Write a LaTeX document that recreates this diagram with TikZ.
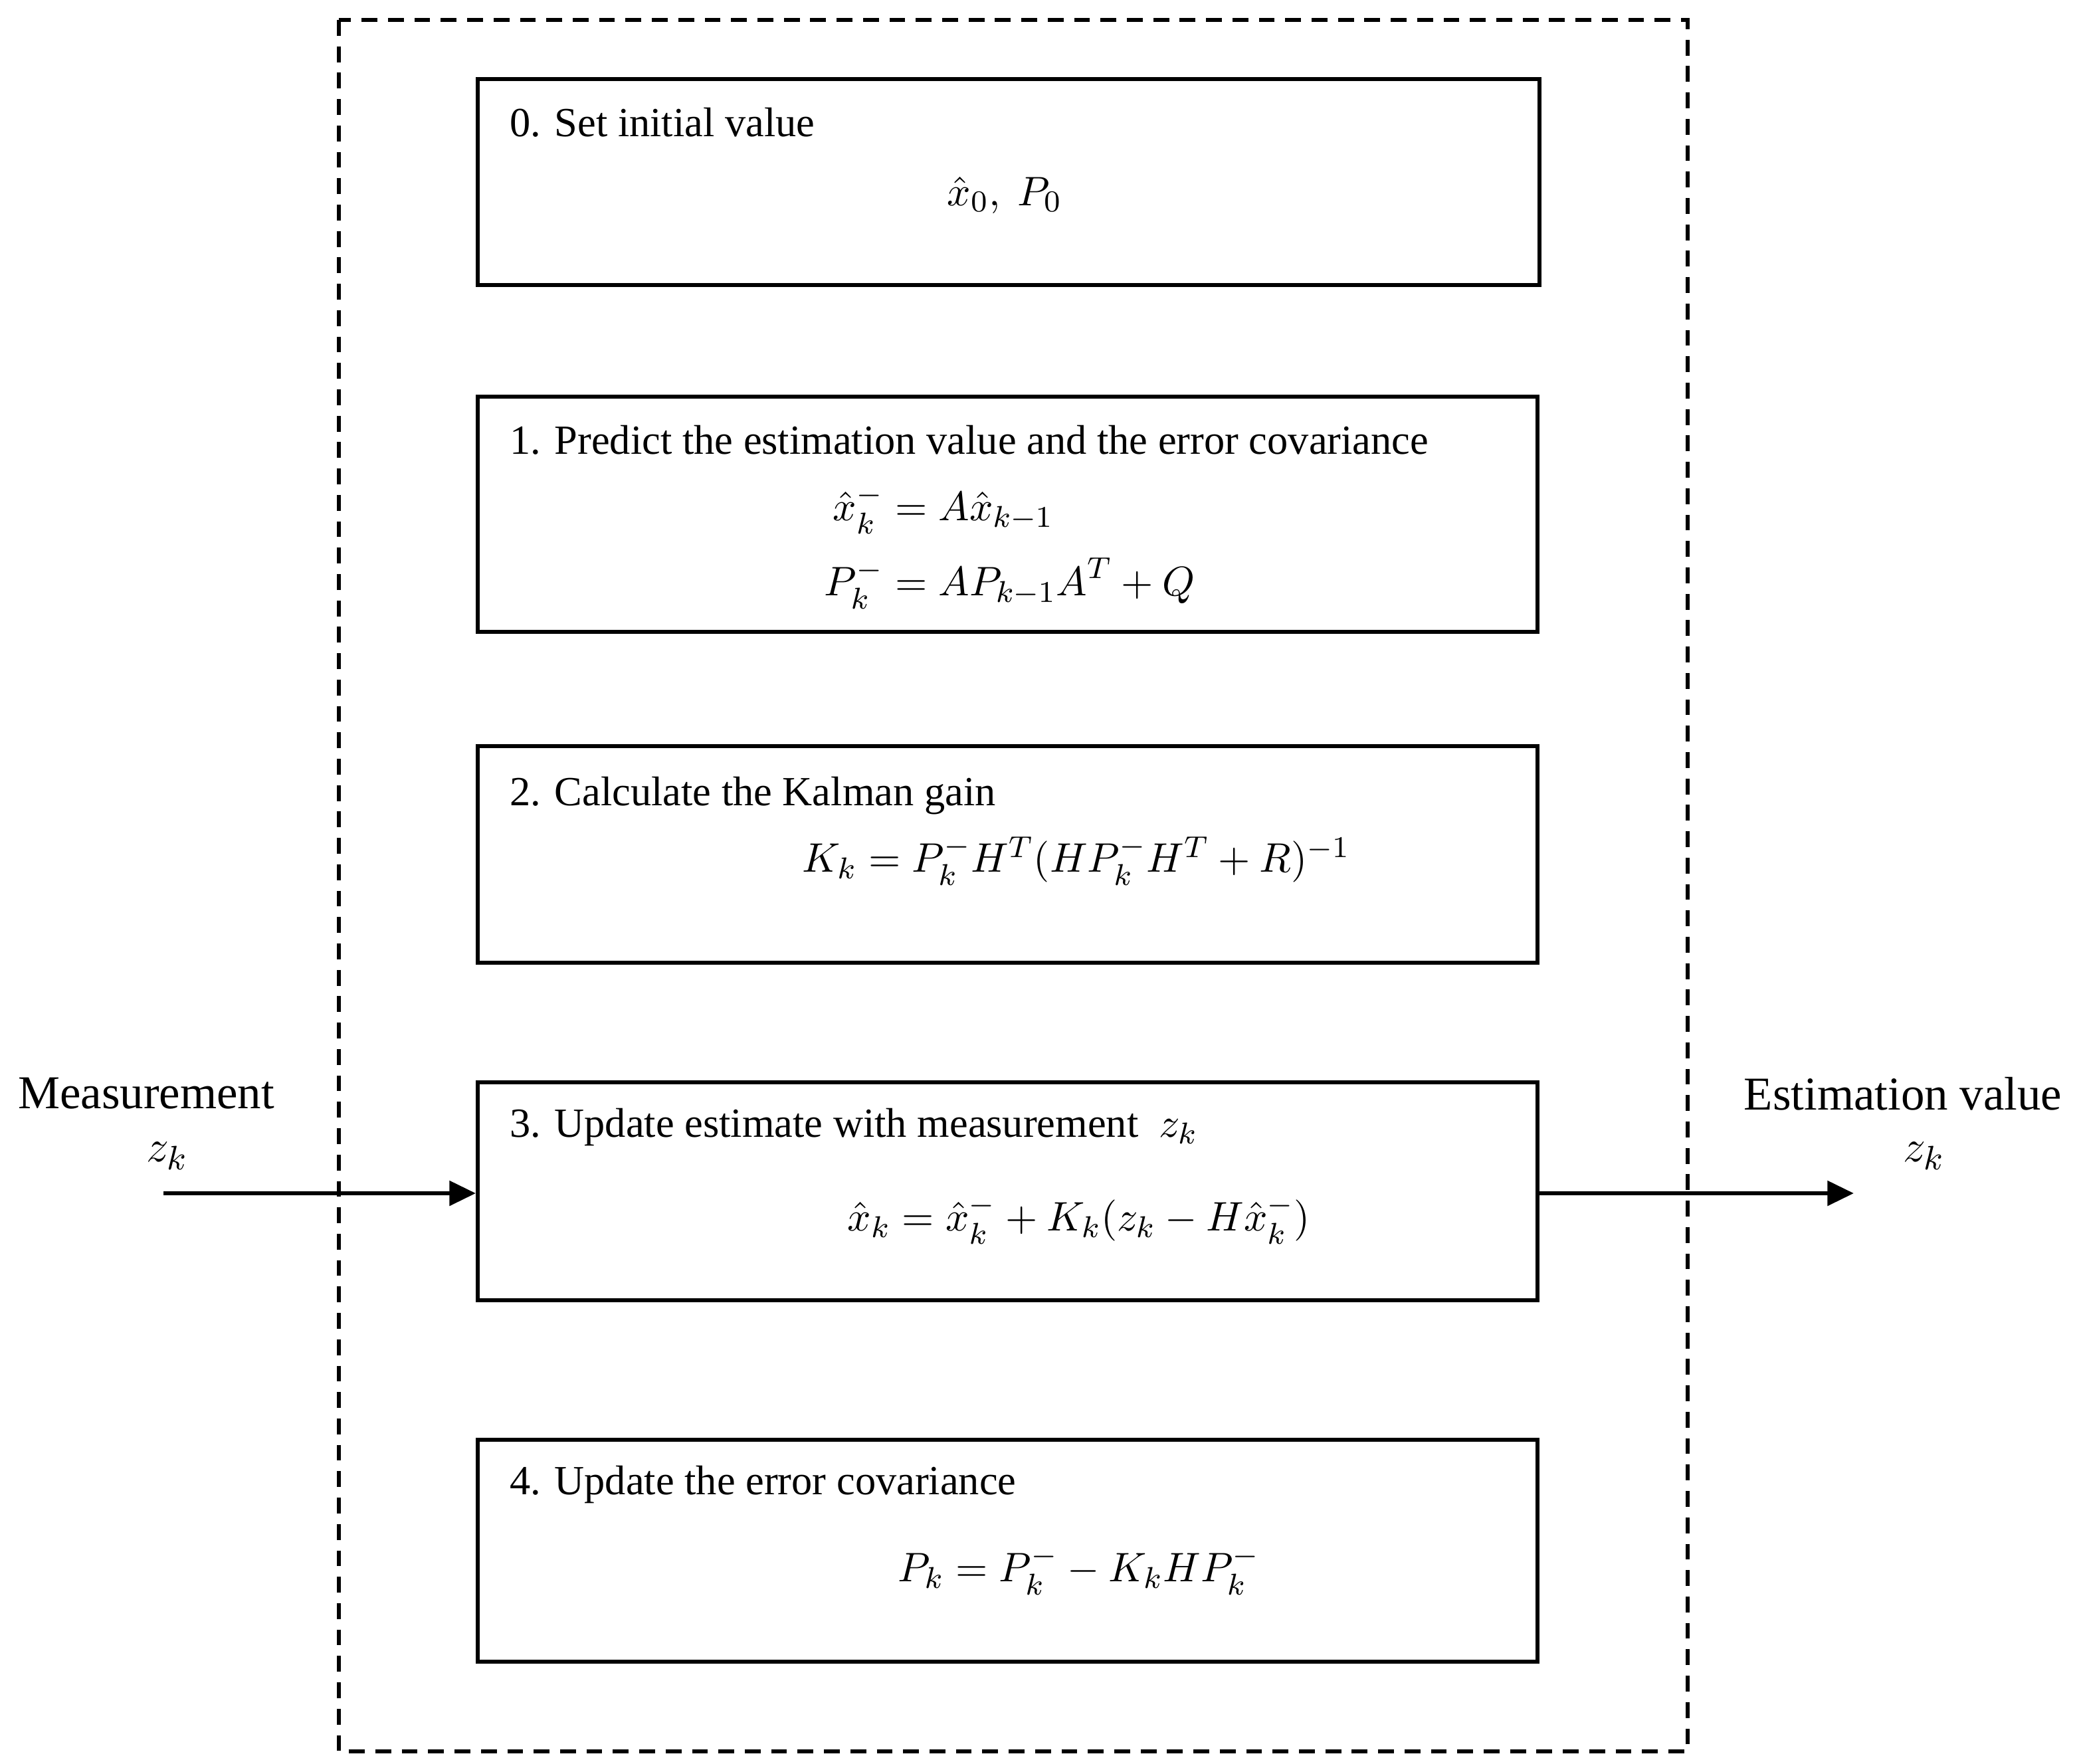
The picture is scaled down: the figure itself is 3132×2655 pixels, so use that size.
\documentclass[tikz,border=0pt]{standalone}
\usepackage{amsmath}
\usepackage{fontspec}
\setmainfont{Liberation Serif}
\usepackage{tikz}
\usetikzlibrary{arrows.meta,positioning}

\tikzset{
  stage/.style={draw, line width=1.1pt, minimum width=9.88cm, anchor=north west, inner sep=0pt},
  title/.style={anchor=west, inner sep=0pt, font=\fontsize{11}{13}\selectfont},
  formula/.style={inner sep=0pt, font=\fontsize{11}{13}\selectfont},
  outer/.style={inner sep=0pt, font=\fontsize{12.5}{15}\selectfont},
  flow/.style={line width=1.1pt, -{Triangle[length=7pt,width=6.5pt]}}
}

\begin{document}
\begin{tikzpicture}[x=0.0062cm, y=-0.0062cm]
	     \useasboundingbox (0,0) rectangle (3132,2655);
	     % dashed frame round the loop
	     \draw[line width=1pt, dash pattern=on 4.2pt off 2.8pt] (510,30) rectangle (2540,2636);

	     % the five stages
	     \node[stage, minimum width=9.9cm, minimum height=1.92cm] (b0) at (716,116) {};
	     \node[stage, minimum height=2.19cm] (b1) at (716,594) {};
	     \node[stage, minimum height=2.02cm] (b2) at (716,1120) {};
	     \node[stage, minimum height=2.03cm] (b3) at (716,1626) {};
	     \node[stage, minimum height=2.07cm] (b4) at (716,2164) {};

	     \node[title] (t0) at (766,184) {0. Set initial value};
	     \node[formula] (f0) at (1512,294) {$\hat{x}_0,\ P_0$};

	     \node[title] (t1) at (766,662) {1. Predict the estimation value and the error covariance};
	     \node[formula] (f1) at (1520,824) {$\begin{aligned}
	       \hat{x}_k^{-} &= A\hat{x}_{k-1}\\[2pt]
	       P_k^{-} &= AP_{k-1}A^{T}+Q
	     \end{aligned}$};

	     \node[title] (t2) at (766,1198) {2. Calculate the Kalman gain};
	     \node[formula] (f2) at (1620,1296) {$K_k = P_k^{-}H^{T}(HP_k^{-}H^{T}+R)^{-1}$};

	     \node[title] (t3) at (766,1696) {3. Update estimate with measurement\ \ $z_k$};
	     \node[formula] (f3) at (1624,1836) {$\hat{x}_k = \hat{x}_k^{-}+K_k(z_k-H\hat{x}_k^{-})$};

	     \node[title] (t4) at (766,2234) {4. Update the error covariance};
	     \node[formula] (f4) at (1624,2364) {$P_k = P_k^{-}-K_kHP_k^{-}$};

	     % input and output
	     \node[outer] (meas) at (220,1646) {Measurement};
	     \node[outer] (zin) at (252,1740) {$z_k$};
	     \node[outer] (est) at (2864,1646) {Estimation value};
	     \node[outer] (zout) at (2896,1740) {$z_k$};

	     \coordinate (in) at (246,1796);
	     \coordinate (out) at (2790,1796);
	     \draw[flow] (in) -- (in -| b3.west);
	     \draw[flow] (out -| b3.east) -- (out);
\end{tikzpicture}
\end{document}
